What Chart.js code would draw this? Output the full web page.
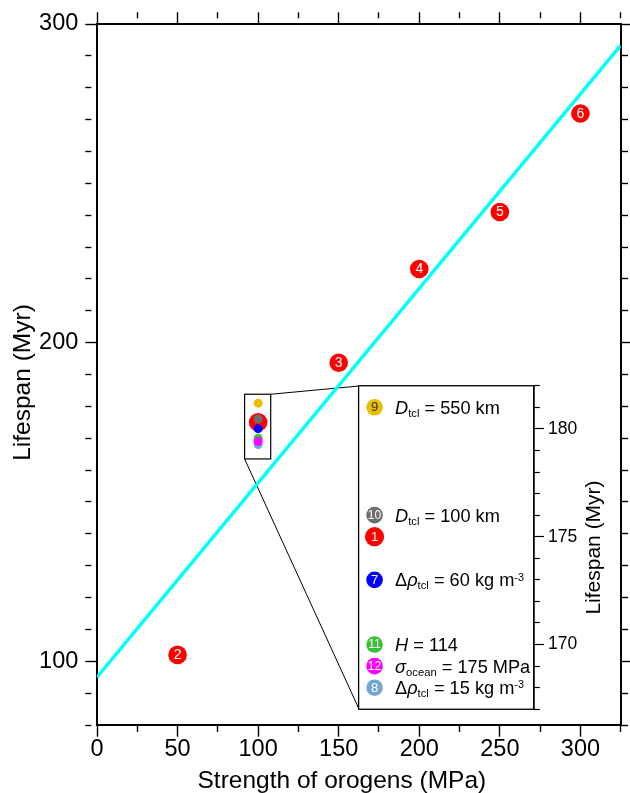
<!DOCTYPE html>
<html>
<head>
<meta charset="utf-8">
<script src="https://cdn.jsdelivr.net/npm/chart.js@4/dist/chart.umd.min.js"></script>
<style>
html, body { margin: 0; padding: 0; background: #fff; overflow: hidden; }
#wrap { position: relative; width: 630px; height: 793px; }
#main { position: absolute; left: 0; top: 0; }
.inset { position: absolute; }
</style>
</head>
<body>
<div id="wrap"><canvas id="main" width="630" height="793"></canvas></div>
<script>
// ---------------- data ----------------
const caseIds       = ['1', '2', '3', '4', '5', '6'];
const caseStrength  = [100, 50, 150, 200, 250, 300];
const caseLifespan  = [175, 102, 193.7, 223.1, 241, 271.9];

const fitStrength   = [0, 325];
const fitLifespan   = [95, 293.3];

const variantIds       = ['7', '8', '9', '10', '11', '12'];
const variantStrength  = [100, 100, 100, 100, 100, 100];
const variantLifespan  = [173, 168, 181, 176, 170, 169];
const variantLabels = [
  [['Δ', ''], ['ρ', 'i'], ['tcl', 'sub'], [' = 60 kg m', ''], ['-3', 'sup']],
  [['Δ', ''], ['ρ', 'i'], ['tcl', 'sub'], [' = 15 kg m', ''], ['-3', 'sup']],
  [['D', 'i'], ['tcl', 'sub'], [' = 550 km', '']],
  [['D', 'i'], ['tcl', 'sub'], [' = 100 km', '']],
  [['H', 'i'], [' = 114', '']],
  [['σ', 'i'], ['ocean', 'sub'], [' = 175 MPa', '']]
];

const xTickLabels     = [0, 50, 100, 150, 200, 250, 300];
const yTickLabels     = [100, 200, 300];
const insetTickLabels = [170, 175, 180];

const xTitle = 'Strength of orogens (MPa)';
const yTitle = 'Lifespan (Myr)';

// ---------------- layout / style ----------------
const FONT = "'Liberation Sans', Arial, Helvetica, sans-serif";
const xRange = [0, 325], yRange = [80, 300], insetRange = [167, 182];
const zoomBox = { strength: [91.6, 107.8], lifespan: [163.5, 183.8] };
const insetFrame = { strength: [162.5, 271], lifespan: [85, 186.5] };
const caseColor = '#FF0000';
const variantColors = ['#0000FF', '#74A6D2', '#E8BF00', '#6E6E6E', '#38C238', '#FF00FF'];
const variantTextColors = ['#fff', '#fff', '#333', '#fff', '#fff', '#fff'];

Chart.defaults.font.family = FONT;
Chart.defaults.color = '#000';

function dashFor(majors, minorLen) {
  return ctx => (ctx.tick && majors.includes(ctx.tick.value)) ? [] : [minorLen, 60];
}

function axisGrid(majors) {
  return {
    drawOnChartArea: false, drawTicks: true, tickLength: 11.7, tickWidth: 1.4,
    tickColor: '#000', tickBorderDash: dashFor(majors, 6)
  };
}
const border = { display: true, color: '#000', width: 2 };
const tickFont = { family: FONT, size: 23.5, lineHeight: 1 };

const mainPlugin = {
  id: 'mainDecor',
  beforeDatasetsDraw(chart) {
    const { ctx } = chart;
    const mx = chart.scales.x, my = chart.scales.y;
    const bx0 = mx.getPixelForValue(zoomBox.strength[0]);
    const bx1 = mx.getPixelForValue(zoomBox.strength[1]);
    const by0 = my.getPixelForValue(zoomBox.lifespan[1]);
    const by1 = my.getPixelForValue(zoomBox.lifespan[0]);
    const ix0 = Math.round(mx.getPixelForValue(insetFrame.strength[0]));
    const iy0 = Math.round(my.getPixelForValue(insetFrame.lifespan[1]));
    const iy1 = Math.round(my.getPixelForValue(insetFrame.lifespan[0]));
    ctx.save();
    ctx.strokeStyle = '#000';
    ctx.lineWidth = 1.2;
    ctx.strokeRect(bx0, by0, bx1 - bx0, by1 - by0);
    ctx.lineWidth = 1;
    ctx.beginPath();
    ctx.moveTo(bx1, by0); ctx.lineTo(ix0, iy0);
    ctx.moveTo(bx0, by1); ctx.lineTo(ix0, iy1);
    ctx.stroke();
    ctx.restore();
  },
  afterDatasetDraw(chart, args) {
    if (args.index !== 1) return;
    const { ctx } = chart;
    const meta = chart.getDatasetMeta(1);
    ctx.save();
    ctx.fillStyle = '#fff';
    ctx.font = '14px ' + FONT;
    ctx.textAlign = 'center';
    ctx.textBaseline = 'middle';
    meta.data.forEach((pt, i) => {
      // the case hidden under the zoomed cluster is labelled in the inset
      if (caseStrength[i] === variantStrength[0]) return;
      ctx.fillText(caseIds[i], pt.x, pt.y + 0.5);
    });
    ctx.restore();
  },
  afterDraw(chart) {
    const { ctx } = chart;
    const mx = chart.scales.x, my = chart.scales.y;
    ctx.save();
    ctx.fillStyle = '#000';
    ctx.font = '24.5px ' + FONT;
    ctx.textAlign = 'center';
    ctx.textBaseline = 'middle';
    ctx.fillText(xTitle, (mx.left + mx.right) / 2 - 17, mx.bottom - 12);
    ctx.translate(my.left + 23, (my.top + my.bottom) / 2 + 8);
    ctx.rotate(-Math.PI / 2);
    ctx.fillText(yTitle, 0, 0);
    ctx.restore();
  }
};

const mainChart = new Chart(document.getElementById('main'), {
  type: 'scatter',
  data: {
    datasets: [
      {
        label: 'fit', data: fitStrength.map((x, i) => ({ x, y: fitLifespan[i] })),
        showLine: true, borderColor: '#00FFFF', borderWidth: 3.5, pointRadius: 0, order: 3
      },
      {
        label: 'cases', data: caseStrength.map((x, i) => ({ x, y: caseLifespan[i] })),
        backgroundColor: caseColor, borderWidth: 0, pointRadius: 9.3, order: 2
      },
      {
        label: 'variants', data: variantStrength.map((x, i) => ({ x, y: variantLifespan[i] })),
        backgroundColor: variantColors, borderWidth: 0, pointRadius: 4.5, order: 1
      }
    ]
  },
  options: {
    responsive: false, animation: false, events: [],
    layout: { padding: 0 },
    plugins: { legend: { display: false }, tooltip: { enabled: false } },
    scales: {
      x: {
        type: 'linear', position: 'bottom', min: xRange[0], max: xRange[1],
        ticks: { stepSize: 25, autoSkip: false, maxRotation: 0, padding: 1, font: tickFont, color: '#000',
                 callback: v => xTickLabels.includes(v) ? String(v) : '' },
        grid: axisGrid(xTickLabels), border,
        afterFit: s => { s.height = 68; }
      },
      x2: {
        type: 'linear', position: 'top', min: xRange[0], max: xRange[1],
        ticks: { display: false, stepSize: 25, autoSkip: false },
        grid: axisGrid(xTickLabels), border,
        afterFit: s => { s.height = 24; }
      },
      y: {
        type: 'linear', position: 'left', min: yRange[0], max: yRange[1],
        ticks: { stepSize: 10, autoSkip: false, padding: 7, font: tickFont, color: '#000',
                 callback: v => yTickLabels.includes(v) ? String(v) : '' },
        grid: axisGrid(yTickLabels), border,
        afterFit: s => { s.width = 97; }
      },
      y2: {
        type: 'linear', position: 'right', min: yRange[0], max: yRange[1],
        ticks: { display: false, stepSize: 10, autoSkip: false },
        grid: axisGrid(yTickLabels), border,
        afterFit: s => { s.width = 8; }
      }
    }
  },
  plugins: [mainPlugin]
});

// ---------------- inset ----------------
function drawRich(ctx, segs, x, y, base) {
  let cx = x;
  for (const [t, style] of segs) {
    let size = base, dy = 0, italic = false;
    if (style === 'i') italic = true;
    if (style === 'sub') { size = base * 0.62; dy = base * 0.16; }
    if (style === 'sup') { size = base * 0.6; dy = -base * 0.32; }
    ctx.font = (italic ? 'italic ' : '') + size + 'px ' + FONT;
    ctx.fillText(t, cx, y + dy);
    cx += ctx.measureText(t).width;
  }
}

const insetPlugin = {
  id: 'insetDecor',
  beforeDraw(chart) {
    const { ctx, chartArea: a } = chart;
    ctx.save();
    ctx.fillStyle = '#fff';
    ctx.fillRect(a.left, a.top, a.right - a.left, a.bottom - a.top);
    ctx.restore();
  },
  afterDraw(chart) {
    const { ctx, chartArea: a } = chart;
    ctx.save();
    ctx.strokeStyle = '#000';
    ctx.lineWidth = 1.3;
    ctx.strokeRect(a.left, a.top, a.right - a.left, a.bottom - a.top);
    // axis title, reading bottom-to-top
    const ys = chart.scales.y;
    ctx.fillStyle = '#000';
    ctx.font = '21px ' + FONT;
    ctx.textAlign = 'center';
    ctx.textBaseline = 'middle';
    ctx.translate(ys.right - 14.5, (ys.top + ys.bottom) / 2);
    ctx.rotate(-Math.PI / 2);
    ctx.fillText(yTitle, 0, 0);
    ctx.restore();

    const meta = chart.getDatasetMeta(0);
    const info = chart.data.datasets[0].info;
    ctx.save();
    meta.data.forEach((pt, i) => {
      const it = info[i];
      ctx.fillStyle = it.textColor;
      ctx.font = (it.id.length > 1 ? '12px ' : '13px ') + FONT;
      ctx.textAlign = 'center';
      ctx.textBaseline = 'middle';
      ctx.fillText(it.id, pt.x, pt.y + 0.5);
      if (it.label) {
        ctx.fillStyle = '#000';
        ctx.textAlign = 'left';
        ctx.textBaseline = 'alphabetic';
        drawRich(ctx, it.label, pt.x + 20.5, pt.y + 6.5, 18.2);
      }
    });
    ctx.restore();
  }
};

function insetConfig() {
  const info = [{ id: caseIds[0], y: caseLifespan[0], color: caseColor, textColor: '#fff', r: 9.6, label: null }];
  variantIds.forEach((id, i) => info.push({
    id, y: variantLifespan[i], color: variantColors[i], textColor: variantTextColors[i], r: 8.3, label: variantLabels[i]
  }));
  return {
    type: 'scatter',
    data: {
      datasets: [{
        data: info.map(it => ({ x: 0, y: it.y })),
        info,
        backgroundColor: info.map(it => it.color),
        pointRadius: info.map(it => it.r),
        borderWidth: 0
      }]
    },
    options: {
      responsive: false, animation: false, events: [],
      layout: { padding: { left: 2, top: 2, bottom: 2, right: 0 } },
      plugins: { legend: { display: false }, tooltip: { enabled: false } },
      scales: {
        x: { type: 'linear', min: -1, max: 10, display: false },
        y: {
          type: 'linear', position: 'right', min: insetRange[0], max: insetRange[1],
          ticks: { stepSize: 1, autoSkip: false, padding: 4, color: '#000',
                   font: { family: FONT, size: 17.5, lineHeight: 1 },
                   callback: v => insetTickLabels.includes(v) ? String(v) : '' },
          grid: { drawOnChartArea: false, drawTicks: true, tickLength: 10, tickWidth: 1.2, tickColor: '#000',
                  tickBorderDash: dashFor(insetTickLabels, 5.5) },
          border: { display: true, color: '#000', width: 1.3 },
          afterFit: s => { s.width = 75; }
        }
      }
    },
    plugins: [insetPlugin]
  };
}

function makeInset(w, h) {
  const c = document.createElement('canvas');
  c.className = 'inset';
  c.width = w; c.height = h;
  document.getElementById('wrap').appendChild(c);
  return new Chart(c, insetConfig());
}

const mx = mainChart.scales.x, my = mainChart.scales.y;
const L = Math.round(mx.getPixelForValue(insetFrame.strength[0]));
const R = Math.round(mx.getPixelForValue(insetFrame.strength[1]));
const T = Math.round(my.getPixelForValue(insetFrame.lifespan[1]));
const B = Math.round(my.getPixelForValue(insetFrame.lifespan[0]));
const W = R - L, H = B - T;

let probe = makeInset(W + 100, H + 60);
let a = probe.chartArea;
const extraW = (W + 100) - (a.right - a.left);
const extraH = (H + 60) - (a.bottom - a.top);
const probeCanvas = probe.canvas;
probe.destroy();
probeCanvas.remove();

const inset = makeInset(Math.round(W + extraW), Math.round(H + extraH));
a = inset.chartArea;
inset.canvas.style.left = Math.round(L - a.left) + 'px';
inset.canvas.style.top = Math.round(T - a.top) + 'px';
</script>
</body>
</html>
